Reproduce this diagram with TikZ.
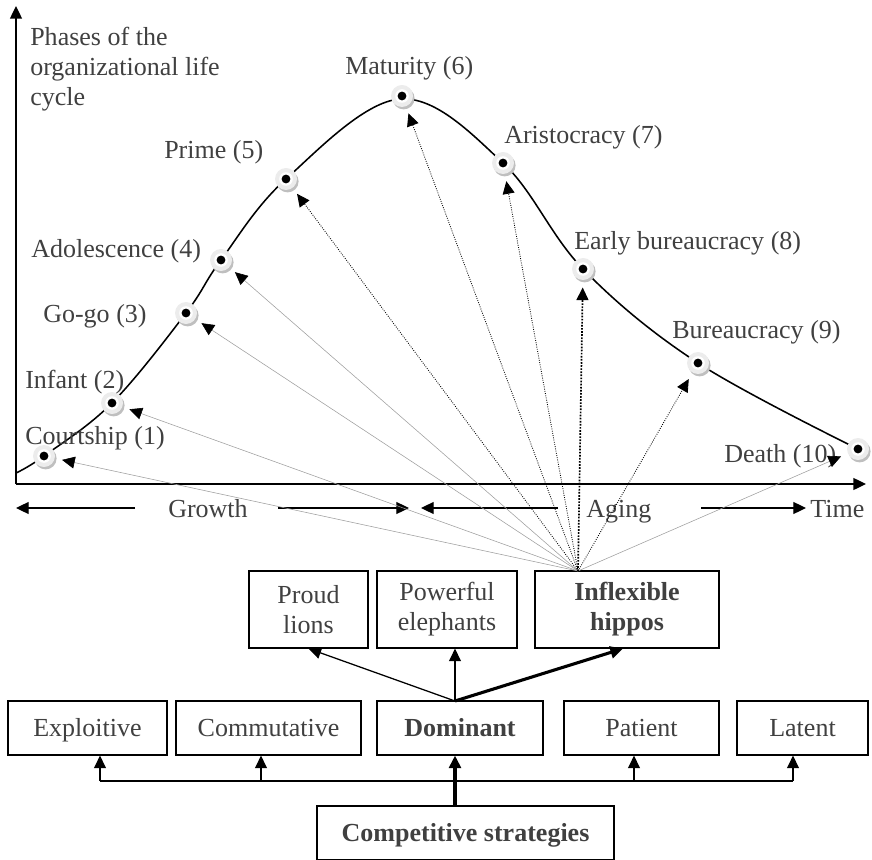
\documentclass[tikz,border=0pt]{standalone}
\usepackage{fontspec}
\setmainfont{Liberation Serif}
\usetikzlibrary{arrows.meta,shadows,calc}
\definecolor{txtgray}{RGB}{64,64,64}

\tikzset{
  tip/.style={-{Triangle[length=9pt,width=8.5pt,color=black]}},
  axis/.style={line width=1pt, tip},
  link/.style={line width=0.9pt, tip},
  biglink/.style={line width=2.2pt, tip},
  lifecurve/.style={line width=1.1pt},
  faint/.style={draw=gray!75, line width=0.4pt, tip, shorten >=0.18cm},
  dotlink/.style={densely dotted, line width=0.6pt, tip, shorten >=0.18cm},
  stage/.style={circle, minimum size=0.55cm, inner sep=0pt, fill=gray!15,
    drop shadow={shadow xshift=0.04cm, shadow yshift=-0.06cm, fill=gray!50, opacity=1},
    path picture={
      \fill[white] (path picture bounding box.center) circle (0.17cm);
      \fill[black] (path picture bounding box.center) circle (0.11cm);}},
  phase label/.style={anchor=base west, inner sep=0pt, text=txtgray},
  box/.style={draw, line width=0.8pt, inner sep=0pt, align=center, text=txtgray},
  onebox/.style={box, text height=13pt, text depth=1.6pt, minimum height=1.35cm}
}

\begin{document}
\begin{tikzpicture}[x=0.025cm, y=-0.025cm, font=\fontsize{18.5}{21.3}\selectfont]
  \clip (0,0) rectangle (872,859);

  % Axes
  \coordinate (origin) at (16,484);
  \coordinate (ytop) at (16,6);
  \coordinate (xend) at (866,484);
  \draw[axis] (origin) -- (ytop);
  \draw[axis] (origin) -- (xend);
  \node[anchor=north west, inner sep=0pt, align=left, text=txtgray] (ylabel) at (30,27)
    {Phases of the\\organizational life\\cycle};

  % Life cycle curve
  \draw[lifecurve] plot[smooth, tension=0.6] coordinates {(16,473) (44,456) (112,403) (186,313)
    (221,260) (286,179) (400,99) (503,163) (583,269) (698,363) (858,449)};

  % Stages on the curve
  \foreach \i/\x/\y in {1/44/456, 2/112/403, 3/186/313, 4/221/260, 5/286/179,
                        6/402/96, 7/503/163, 8/583/269, 9/698/363, 10/858/449} {
    \node[stage] (s\i) at (\x,\y) {};
  }
  \foreach \i/\x/\y/\txt in {1/25/444/Courtship (1), 2/25/388/Infant (2), 3/43/322/Go-go (3),
                             4/31/258/Adolescence (4), 5/164/159/Prime (5), 6/345/75/Maturity (6),
                             7/504/144/Aristocracy (7), 8/574/250/Early bureaucracy (8),
                             9/672/338/Bureaucracy (9), 10/724/462/Death (10)} {
    \node[phase label] (l\i) at (\x,\y) {\txt};
  }

  % Growth / Aging / Time
  \node[anchor=base, inner sep=0pt, text=txtgray] (growth) at (208,517) {Growth};
  \node[phase label] (aging) at (586,517) {Aging};
  \node[phase label] (time) at (810,517) {Time};
  \coordinate (growthL) at (16,508);
  \coordinate (growthA) at (135,508);
  \coordinate (growthB) at (278,508);
  \coordinate (growthR) at (409,508);
  \coordinate (agingL) at (421,508);
  \coordinate (agingA) at (558,508);
  \coordinate (timeA) at (701,508);
  \coordinate (timeR) at (806,508);
  \draw[link] (growthA) -- (growthL);
  \draw[link] (growthB) -- (growthR);
  \draw[link] (agingA) -- (agingL);
  \draw[link] (timeA) -- (timeR);

  % Competitive strategies
  \node[onebox, minimum width=7.425cm] (competitive) at (465.5,833) {\textbf{Competitive strategies}};
  \node[onebox, minimum width=3.975cm] (exploitive) at (87.5,728) {Exploitive};
  \node[onebox, minimum width=4.625cm] (commutative) at (268.5,728) {Commutative};
  \node[onebox, minimum width=4.15cm] (dominant) at (460,728) {\textbf{Dominant}};
  \node[onebox, minimum width=3.875cm] (patient) at (641.5,728) {Patient};
  \node[onebox, minimum width=3.275cm] (latent) at (802.5,728) {Latent};

  % Dominant types
  \node[box, minimum width=2.975cm, minimum height=1.925cm] (lions) at (308.5,609.5) {Proud\\lions};
  \node[box, minimum width=3.5cm, minimum height=1.925cm] (elephants) at (447,609.5) {Powerful\\elephants};
  \node[box, minimum width=4.6cm, minimum height=1.925cm] (hippos) at (627,609.5) {\textbf{Inflexible}\\\textbf{hippos}};

  % Strategy bus
  \coordinate (busL) at (100,781);
  \coordinate (busR) at (793,781);
  \draw[line width=0.9pt] (busL) -- (busR);
  \foreach \n/\x in {exploitive/100, commutative/261, patient/634, latent/793} {
    \draw[link] (\x,781) -- (\x,781 |- \n.south);
  }
  \coordinate (dtop) at (455,701);
  \draw[biglink] (dtop |- competitive.north) -- (dtop |- dominant.south);

  \draw[link] (dtop) -- (lions.south);
  \draw[link] (dtop) -- (dtop |- elephants.south);
  \draw[biglink] (dtop) -- ([xshift=-0.1cm]hippos.south);

  % Hippos to stages
  \coordinate (hub) at (578,571);
  \foreach \i in {1,2,3,4,10} {
    \draw[faint] (hub) -- (s\i);
  }
  \foreach \i in {5,6,7,9} {
    \draw[dotlink] (hub) -- (s\i);
  }
  \draw[dotlink, line width=1.2pt] (hub) -- (s8);
\end{tikzpicture}
\end{document}
